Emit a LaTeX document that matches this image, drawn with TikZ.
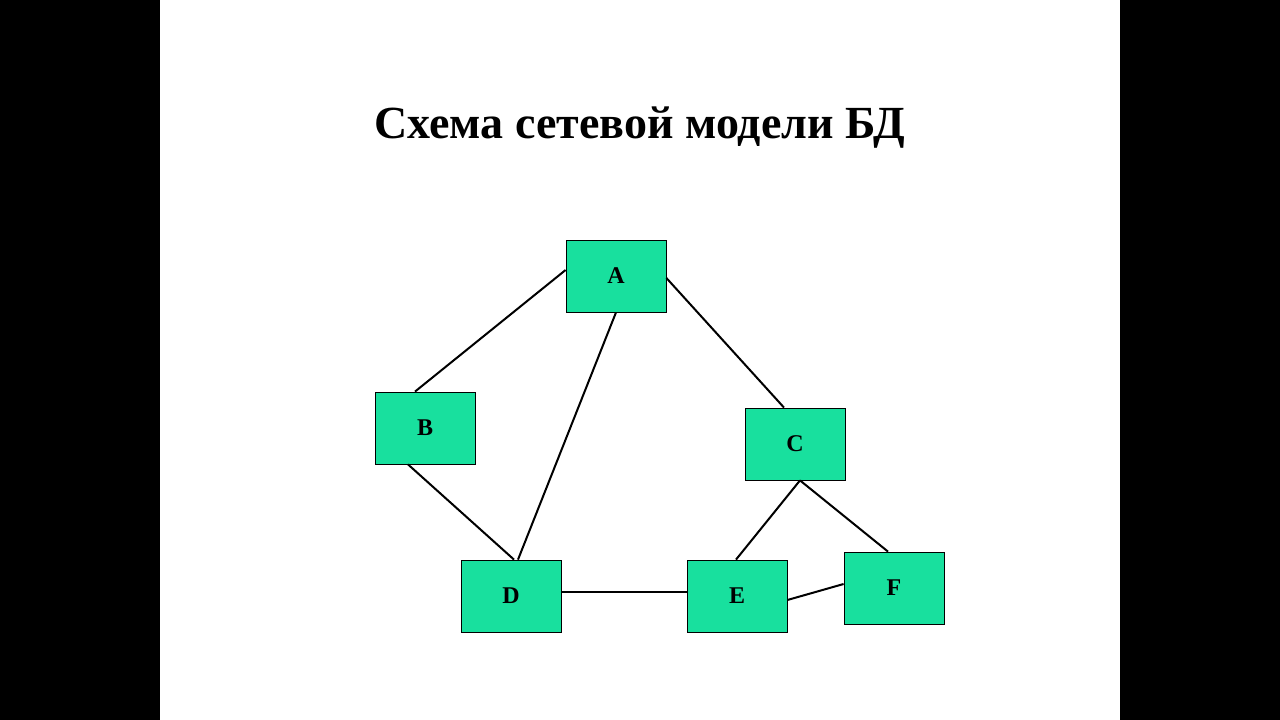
\documentclass[tikz,border=0pt]{standalone}
\usepackage{fontspec}
\setmainfont{Liberation Serif}
\begin{document}
\begin{tikzpicture}[x=1pt,y=-1pt,
  box/.style={draw=black,line width=0.8pt,fill={rgb,255:red,24;green,224;blue,158},minimum width=100pt,minimum height=72pt,inner sep=0pt,font=\bfseries\fontsize{24}{24}\selectfont},
  link/.style={line width=2pt}]
\fill[black] (0,0) rectangle (1280,720);
\fill[white] (160,0) rectangle (1120,720);
\useasboundingbox (0,0) rectangle (1280,720);
\node[font=\bfseries\fontsize{46}{46}\selectfont] (T) at (640,128) {Схема сетевой модели БД};
\node[box] (A) at (616,276) {A};
\node[box] (B) at (425,428) {B};
\node[box] (C) at (795,444) {C};
\node[box] (D) at (511,596) {D};
\node[box] (E) at (737,596) {E};
\node[box] (F) at (894,588) {F};
\draw[link] ([yshift=6pt]A.west) -- ([xshift=-10pt]B.north);
\draw[link] (A.south) -- ([xshift=7pt]D.north);
\draw[link] ([yshift=-2pt]A.east) -- ([xshift=-11pt]C.north);
\draw[link] ([xshift=-17pt]B.south) -- ([xshift=3pt]D.north);
\draw[link] ([xshift=5pt]C.south) -- ([xshift=-1pt]E.north);
\draw[link] ([xshift=5pt]C.south) -- ([xshift=-6pt]F.north);
\draw[link] ([yshift=4pt]D.east) -- ([yshift=4pt]E.west);
\draw[link] ([yshift=-4pt]E.east) -- ([yshift=4pt]F.west);
\end{tikzpicture}
\end{document}
